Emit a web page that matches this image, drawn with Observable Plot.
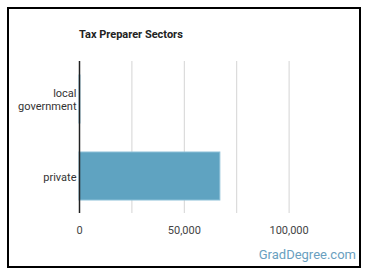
<!DOCTYPE html>
<html><head><meta charset="utf-8">
<script src="https://cdn.jsdelivr.net/npm/d3@7"></script>
<script src="https://cdn.jsdelivr.net/npm/@observablehq/plot@0.6"></script>
<style>
html,body{margin:0;padding:0;background:#fff;}
#wrap{position:relative;width:370px;height:278px;font-family:Roboto,sans-serif;}
#frame{position:absolute;left:7px;top:7px;width:350px;height:257px;border:2px solid #000;}
#title{position:absolute;left:79px;top:28px;font-size:11px;font-weight:bold;color:#222;}
#credit{position:absolute;right:14px;top:247px;font-size:13px;color:#6a9fc0;}
#chart{position:absolute;left:0;top:0;}
</style></head>
<body>
<div id="wrap">
<div id="frame"></div>
<div id="chart"></div>
<div id="title">Tax Preparer Sectors</div>
<div id="credit">GradDegree.com</div>
</div>
<script>
const sectors = ["local government", "private"];
const workers = [450, 67200];
const gridTicks = [25000, 50000, 75000, 100000];
const labelTicks = [0, 50000, 100000];

const data = sectors.map((s, i) => ({sector: s, value: workers[i]}));
const fmt = d3.format(",");

const chart = Plot.plot({
  width: 370, height: 278,
  marginLeft: 79, marginRight: 29, marginTop: 61, marginBottom: 65,
  style: {fontFamily: "Roboto, sans-serif", background: "transparent"},
  x: {domain: [0, 125000], axis: null},
  y: {domain: sectors, paddingInner: 0.377, paddingOuter: 0.175, axis: null},
  marks: [
    Plot.ruleX(gridTicks, {stroke: "#d4d4d4", strokeWidth: 1}),
    Plot.barX(data, {x: "value", y: "sector", fill: "#5fa3c1", stroke: "#8cc0d8", strokeWidth: 1}),
    Plot.ruleX([0], {stroke: "#222", strokeWidth: 1.5}),
    Plot.text(labelTicks, {x: d => d, frameAnchor: "bottom", dy: 20, text: d => fmt(d), fontSize: 11, fill: "#444"}),
    Plot.axisY({domain: sectors, tickSize: 0, tickPadding: 3, fontSize: 11, label: null,
      tickFormat: d => d === "local government" ? "local\ngovernment" : d, lineHeight: 1.15, fill: "#333"})
  ]
});
document.getElementById("chart").appendChild(chart);
</script>
</body></html>
